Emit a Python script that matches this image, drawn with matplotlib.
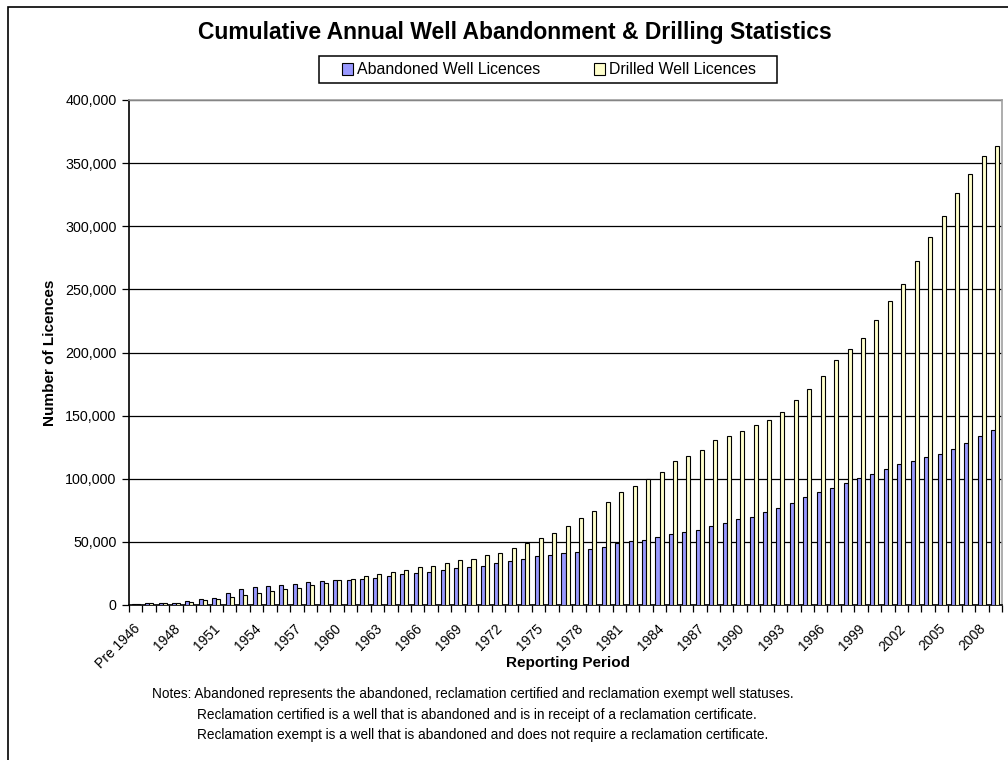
import numpy as np
import matplotlib
matplotlib.use("Agg")
import matplotlib.pyplot as plt
from matplotlib.patches import Rectangle
from matplotlib.ticker import FuncFormatter, FixedLocator
from matplotlib.transforms import ScaledTranslation

plt.rcParams['font.family'] = ['Liberation Sans', 'DejaVu Sans']

# reporting periods: pre-1946 bucket, then one per year
periods = ["Pre 1946"] + [str(y) for y in range(1946, 2010)]

# cumulative licence counts per period
abandoned = [
    800, 1900, 1900, 1900, 2900, 4800, 5600, 9300, 13000, 14100,
    15200, 16000, 17000, 18100, 18900, 19700, 19700, 20700, 21500, 22600,
    24600, 25600, 26400, 27500, 29300, 30400, 31200, 33000, 34800, 36700,
    38500, 39600, 41400, 42200, 44100, 45900, 49100, 50700, 51500, 53600,
    56200, 58000, 59800, 62400, 65300, 68200, 70000, 73800, 76700, 81100,
    85200, 89600, 92600, 96400, 100200, 103700, 107500, 111300, 114200, 116900,
    119800, 123600, 128000, 133900, 138800,
]
drilled = [
    500, 1600, 1600, 1600, 2700, 3700, 4500, 6400, 8200, 9300,
    11100, 13000, 13800, 16000, 17700, 19700, 20500, 22600, 24500, 26200,
    28000, 30100, 31200, 33000, 35600, 36700, 39600, 41400, 45100, 49100,
    52800, 57300, 62800, 68600, 74400, 81800, 89500, 94000, 99800, 105300,
    113800, 118000, 122700, 130300, 133900, 137700, 142300, 146200, 152600, 162300,
    170800, 181000, 193900, 202400, 211800, 225800, 240800, 254200, 272100, 291700,
    308400, 326300, 341500, 355600, 363200,
]

series_names = ["Abandoned Well Licences", "Drilled Well Licences"]
series_colors = ["#9999FF", "#FFFFCC"]

W, H = 1008, 760
fig = plt.figure(figsize=(W / 100, H / 100), dpi=100)
ax = fig.add_axes([129 / W, 1 - 605 / H, 873 / W, 505 / H])

x = np.arange(len(periods))
w = 0.3
bars_a = ax.bar(x - w / 2, abandoned, w, color=series_colors[0],
                edgecolor="black", linewidth=0.8, zorder=3)
bars_d = ax.bar(x + w / 2, drilled, w, color=series_colors[1],
                edgecolor="black", linewidth=0.8, zorder=3)

ax.set_xlim(-0.5, len(periods) - 0.5)
ax.set_ylim(0, 400000)
ax.set_yticks(np.arange(0, 400001, 50000))
ax.yaxis.set_major_formatter(FuncFormatter(lambda v, p: f"{int(v):,}"))
ax.yaxis.grid(True, color="black", linewidth=0.9, zorder=0)
ax.tick_params(axis="y", length=5, width=0.9, labelsize=10.3, pad=4)

# labels every third period, tick marks on category boundaries
ax.set_xticks(x[::3])
ax.set_xticklabels(periods[::3], rotation=45, ha="right", va="top",
                   rotation_mode="anchor", fontsize=10)
ax.tick_params(axis="x", which="major", length=0, pad=12)
ax.xaxis.set_minor_locator(FixedLocator(np.arange(-0.5, len(periods), 1.0)))
ax.tick_params(axis="x", which="minor", length=5, width=0.9)
shift = ScaledTranslation(-3 / 100, 0, fig.dpi_scale_trans)
for lbl in ax.get_xticklabels():
    lbl.set_transform(lbl.get_transform() + shift)

for side in ("left", "bottom"):
    ax.spines[side].set_color("black")
    ax.spines[side].set_linewidth(1.2)
for side in ("top", "right"):
    ax.spines[side].set_color("#a0a0a0")
    ax.spines[side].set_linewidth(1.2)

# axis titles at fixed spots so the rotated tick labels don't push them
fig.text(50 / W, 1 - 353 / H, "Number of Licences", rotation=90,
         ha="center", va="center", fontsize=11, fontweight="bold")
fig.text(568 / W, 1 - 663 / H, "Reporting Period",
         ha="center", va="center", fontsize=11, fontweight="bold")

fig.text(515 / W, 1 - 33 / H, "Cumulative Annual Well Abandonment & Drilling Statistics",
         ha="center", va="center", fontsize=16.5, fontweight="bold")

# legend entries without their own frame, boxed separately
leg = fig.legend([bars_a, bars_d], series_names, loc="center",
                 bbox_to_anchor=(549 / W, 1 - 70 / H), ncol=2,
                 fontsize=11.4, frameon=False,
                 handlelength=0.7, handleheight=0.7, handletextpad=0.25,
                 columnspacing=3.4, borderpad=0.0)
fig.patches.append(Rectangle((319 / W, 1 - 83 / H), (777 - 319) / W, 27 / H,
                             transform=fig.transFigure, fill=False,
                             edgecolor="black", linewidth=1.1))

notes = [
    (152, 694, "Notes: Abandoned represents the abandoned, reclamation certified and reclamation exempt well statuses."),
    (197, 715, "Reclamation certified is a well that is abandoned and is in receipt of a reclamation certificate."),
    (197, 735, "Reclamation exempt is a well that is abandoned and does not require a reclamation certificate."),
]
for nx, ny, txt in notes:
    fig.text(nx / W, 1 - ny / H, txt, ha="left", va="center", fontsize=9.8)

# outer frame around the chart area
fig.patches.append(Rectangle((8 / W, -0.05), 1.2, 1 - 7 / H + 0.05,
                             transform=fig.transFigure, fill=False,
                             edgecolor="black", linewidth=1.2))

fig.savefig("out.png", dpi=100)
